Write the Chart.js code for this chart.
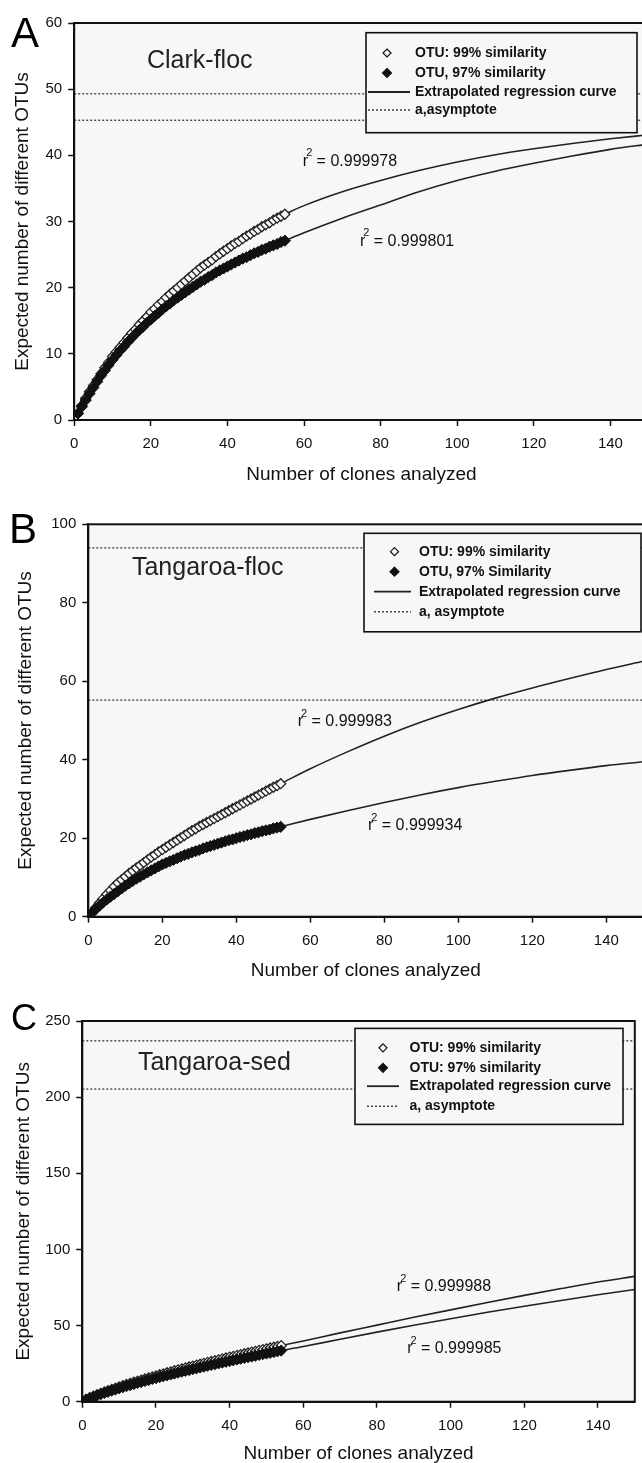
<!DOCTYPE html>
<html>
<head>
<meta charset="utf-8">
<script src="https://cdn.jsdelivr.net/npm/chart.js"></script>
<style>
  html, body { margin: 0; padding: 0; background: #fff; overflow: hidden; width: 642px; height: 1463px; }
  canvas { position: absolute; left: 0; }
</style>
</head>
<body>
<canvas id="chartA" width="660" height="495" style="top:0px"></canvas>
<canvas id="chartB" width="660" height="496" style="top:495px"></canvas>
<canvas id="chartC" width="660" height="483" style="top:991px"></canvas>
<script>
// clone counts (x) shared by the three panels
const cloneCounts = [1,2,3,4,5,6,7,8,9,10,11,12,13,14,15,16,17,18,19,20,21,22,23,24,25,26,27,28,29,30,
  31,32,33,34,35,36,37,38,39,40,41,42,43,44,45,46,47,48,49,50,51,52,53,54,55];
const xTicks = [0, 20, 40, 60, 80, 100, 120, 140];
const xMin = 0, xMax = 150;

// A - Clark-floc
const clarkOtu99 = [1.0,2.2,3.3,4.3,5.2,6.1,7.0,7.9,8.7,9.6,10.3,11.0,11.7,12.4,13.1,13.7,14.4,15.0,15.6,16.3,
  16.8,17.4,17.9,18.5,19.0,19.5,20.0,20.5,21.0,21.5,22.0,22.5,23.0,23.4,23.8,24.2,24.7,25.1,25.5,25.9,
  26.3,26.7,27.0,27.4,27.8,28.1,28.5,28.8,29.2,29.5,29.8,30.2,30.5,30.8,31.1];
const clarkOtu97 = [1.0,2.0,3.0,4.0,4.9,5.8,6.7,7.5,8.3,9.1,9.8,10.5,11.1,11.8,12.4,13.0,13.6,14.1,14.7,15.2,
  15.7,16.2,16.7,17.2,17.6,18.1,18.5,18.9,19.3,19.7,20.1,20.5,20.9,21.2,21.6,21.9,22.3,22.6,22.9,23.2,
  23.5,23.8,24.1,24.4,24.6,24.9,25.2,25.4,25.7,25.9,26.2,26.4,26.6,26.9,27.1];
const clarkFitX = [55, 60, 70, 80, 90, 100, 110, 120, 130, 140, 150];
const clarkFit99 = [31.1, 32.4, 34.5, 36.2, 37.7, 39.0, 40.1, 41.0, 41.8, 42.5, 43.1];
const clarkFit97 = [27.1, 28.3, 30.5, 32.5, 34.5, 36.2, 37.6, 38.8, 39.9, 40.9, 41.7];
const clarkAsymptotes = [49.3, 45.3];
const clarkYTicks = [0, 10, 20, 30, 40, 50, 60];
const clarkR2 = ['0.999978', '0.999801'];
const clarkLegend = ['OTU: 99% similarity', 'OTU, 97% similarity', 'Extrapolated regression curve', 'a,asymptote'];

// B - Tangaroa-floc
const tflocOtu99 = [1.0,2.3,3.5,4.6,5.7,6.7,7.7,8.6,9.4,10.2,11.0,11.7,12.4,13.1,13.8,14.5,15.2,15.8,16.5,17.1,
  17.7,18.3,18.9,19.5,20.1,20.7,21.3,21.9,22.4,23.0,23.5,24.0,24.5,25.0,25.5,26.0,26.5,27.0,27.5,28.0,
  28.5,29.0,29.5,30.0,30.5,31.0,31.5,32.0,32.5,33.0,33.4,33.9];
const tflocOtu97 = [1.0,1.9,2.8,3.6,4.4,5.1,5.8,6.5,7.2,7.9,8.5,9.1,9.7,10.2,10.8,11.3,11.8,12.3,12.8,13.3,
  13.7,14.1,14.5,14.9,15.3,15.7,16.0,16.4,16.7,17.0,17.4,17.7,18.0,18.3,18.6,18.9,19.2,19.5,19.7,20.0,
  20.3,20.5,20.8,21.0,21.3,21.5,21.8,22.0,22.2,22.5,22.7,22.9];
const tflocFitX = [52, 60, 70, 80, 90, 100, 110, 120, 130, 140, 150];
const tflocFit99 = [33.9, 37.7, 42.0, 46.0, 49.6, 52.8, 55.7, 58.3, 60.7, 63.0, 65.1];
const tflocFit97 = [22.9, 24.8, 27.0, 29.1, 31.1, 32.9, 34.5, 36.0, 37.3, 38.5, 39.5];
const tflocAsymptotes = [94.0, 55.2];
const tflocYTicks = [0, 20, 40, 60, 80, 100];
const tflocR2 = ['0.999983', '0.999934'];
const tflocLegend = ['OTU: 99% similarity', 'OTU, 97% Similarity', 'Extrapolated regression curve', 'a, asymptote'];

// C - Tangaroa-sed
const tsedOtu99 = [1.5,2.6,3.6,4.6,5.5,6.4,7.3,8.1,8.9,9.7,10.5,11.3,12.0,12.8,13.5,14.2,14.9,15.6,16.3,17.0,
  17.7,18.3,19.0,19.6,20.3,20.9,21.5,22.2,22.8,23.4,24.0,24.6,25.2,25.8,26.4,27.0,27.5,28.1,28.7,29.3,
  29.8,30.4,30.9,31.5,32.0,32.6,33.1,33.7,34.2,34.7,35.3,35.8,36.3,36.8];
const tsedOtu97 = [1.2,2.2,3.1,4.0,4.9,5.7,6.5,7.3,8.0,8.8,9.5,10.2,10.9,11.6,12.3,12.9,13.6,14.2,14.9,15.5,
  16.1,16.7,17.3,17.9,18.5,19.1,19.7,20.3,20.8,21.4,21.9,22.5,23.0,23.6,24.1,24.6,25.2,25.7,26.2,26.7,
  27.2,27.7,28.2,28.7,29.2,29.7,30.2,30.7,31.2,31.7,32.1,32.6,33.1,33.6];
const tsedFitX = [54, 60, 70, 80, 90, 100, 110, 120, 130, 140, 150];
const tsedFit99 = [36.8, 39.9, 45.2, 50.3, 55.4, 60.3, 65.1, 69.8, 74.3, 78.6, 82.3];
const tsedFit97 = [33.6, 36.2, 41.0, 45.7, 50.2, 54.5, 58.7, 62.7, 66.5, 70.2, 73.7];
const tsedAsymptotes = [237.0, 205.3];
const tsedYTicks = [0, 50, 100, 150, 200, 250];
const tsedR2 = ['0.999988', '0.999985'];
const tsedLegend = ['OTU: 99% similarity', 'OTU: 97% similarity', 'Extrapolated regression curve', 'a, asymptote'];

const FONT = 'Arial, "Liberation Sans", Helvetica, sans-serif';
const plotBg = '#f7f7f7';
const ink = '#111';

function pts(xs, ys) {
  return ys.map((y, i) => ({ x: xs[i], y: y }));
}

function diamond(ctx, x, y, r, filled) {
  ctx.beginPath();
  ctx.moveTo(x, y - r);
  ctx.lineTo(x + r, y);
  ctx.lineTo(x, y + r);
  ctx.lineTo(x - r, y);
  ctx.closePath();
  ctx.fillStyle = filled ? ink : plotBg;
  ctx.fill();
  ctx.lineWidth = 1.2;
  ctx.strokeStyle = ink;
  ctx.stroke();
}

function makePanel(p) {
  const canvas = document.getElementById(p.id);
  const W = canvas.width, H = canvas.height;
  const a = p.area;

  const datasets = [
    { label: p.legend[1], data: pts(cloneCounts, p.otu97), pointStyle: 'rectRot', pointRadius: 5.6,
      pointBackgroundColor: ink, pointBorderColor: ink, pointBorderWidth: 1, showLine: false, order: 0 },
    { label: p.legend[0], data: pts(cloneCounts, p.otu99), pointStyle: 'rectRot', pointRadius: 5,
      pointBackgroundColor: plotBg, pointBorderColor: '#222', pointBorderWidth: 1.3, showLine: false, order: 1 },
    { type: 'line', label: 'fit 99', data: pts(p.fitX, p.fit99), borderColor: '#222', borderWidth: 1.6,
      pointRadius: 0, cubicInterpolationMode: 'monotone', fill: false, order: 2 },
    { type: 'line', label: 'fit 97', data: pts(p.fitX, p.fit97), borderColor: '#222', borderWidth: 1.6,
      pointRadius: 0, cubicInterpolationMode: 'monotone', fill: false, order: 2 }
  ];
  p.asymptotes.forEach(function(v) {
    datasets.push({ type: 'line', label: 'asymptote', data: [{ x: xMin, y: v }, { x: xMax, y: v }],
      borderColor: '#444', borderWidth: 1.4, borderDash: [2, 2], pointRadius: 0, fill: false, order: 3 });
  });

  const decor = {
    id: 'decor',
    beforeDraw(chart) {
      const c = chart.chartArea, ctx = chart.ctx;
      ctx.save();
      ctx.fillStyle = plotBg;
      ctx.fillRect(c.left, c.top, c.right - c.left, c.bottom - c.top);
      ctx.restore();
    },
    afterDraw(chart) {
      const c = chart.chartArea, ctx = chart.ctx;
      const xs = chart.scales.x, ys = chart.scales.y;
      ctx.save();
      // frame
      ctx.lineWidth = 2;
      ctx.strokeStyle = ink;
      ctx.strokeRect(c.left, c.top, c.right - c.left, c.bottom - c.top);

      // legend box
      const L = p.legendBox;
      ctx.fillStyle = plotBg;
      ctx.fillRect(L.x, L.y, L.w, L.h);
      ctx.lineWidth = 1.6;
      ctx.strokeRect(L.x, L.y, L.w, L.h);
      ctx.font = 'bold 14px ' + FONT;
      ctx.textBaseline = 'middle';
      ctx.textAlign = 'left';
      L.rows.forEach(function(ry, i) {
        const y = L.y + ry;
        if (i === 0) diamond(ctx, L.x + L.markX, y, 4, false);
        if (i === 1) diamond(ctx, L.x + L.markX, y, 4.5, true);
        if (i >= 2) {
          ctx.beginPath();
          ctx.lineWidth = i === 2 ? 1.8 : 1.4;
          ctx.strokeStyle = i === 2 ? '#222' : '#444';
          ctx.setLineDash(i === 2 ? [] : [2, 2]);
          ctx.moveTo(L.x + L.line[0], y);
          ctx.lineTo(L.x + L.line[1], y);
          ctx.stroke();
          ctx.setLineDash([]);
        }
        ctx.fillStyle = ink;
        ctx.fillText(p.legend[i], L.x + L.textX, y);
      });

      // site name
      ctx.font = '25px ' + FONT;
      ctx.fillStyle = '#222';
      ctx.fillText(p.site.text, xs.getPixelForValue(p.site.x), ys.getPixelForValue(p.site.y));

      // r^2 labels
      p.r2pos.forEach(function(pos, i) {
        let x = xs.getPixelForValue(pos.x);
        const y = ys.getPixelForValue(pos.y);
        ctx.fillStyle = ink;
        ctx.font = '16px ' + FONT;
        ctx.fillText('r', x, y);
        x += ctx.measureText('r').width;
        ctx.font = '11px ' + FONT;
        ctx.fillText('2', x - 2, y - 8);
        x += 4;
        ctx.font = '16px ' + FONT;
        ctx.fillText(' = ' + p.r2[i], x, y);
      });

      // panel letter
      ctx.font = p.letter.size + 'px ' + FONT;
      ctx.textBaseline = 'alphabetic';
      ctx.fillStyle = '#000';
      ctx.fillText(p.letter.text, p.letter.x, p.letter.y);
      ctx.restore();
    }
  };

  return new Chart(canvas.getContext('2d'), {
    type: 'scatter',
    data: { datasets: datasets },
    options: {
      responsive: false,
      animation: false,
      devicePixelRatio: 1,
      events: [],
      layout: { padding: { left: 0, top: a.top, right: W - a.right, bottom: 0 } },
      plugins: { legend: { display: false }, tooltip: { enabled: false } },
      scales: {
        x: {
          type: 'linear', min: xMin, max: xMax,
          afterBuildTicks: function(s) { s.ticks = xTicks.map(function(v) { return { value: v }; }); },
          afterFit: function(s) { s.height = H - a.bottom; },
          grid: { drawOnChartArea: false, drawTicks: true, tickLength: 6, tickColor: ink, tickWidth: 1.5 },
          border: { color: ink, width: 2 },
          ticks: { color: ink, font: { family: FONT, size: 15 }, padding: 9, maxRotation: 0 },
          title: { display: true, text: 'Number of clones analyzed', color: ink,
            font: { family: FONT, size: 19, lineHeight: 1.2 }, padding: { top: 0, bottom: 8.6 } }
        },
        y: {
          type: 'linear', min: p.yTicks[0], max: p.yTicks[p.yTicks.length - 1],
          afterBuildTicks: function(s) { s.ticks = p.yTicks.map(function(v) { return { value: v }; }); },
          afterFit: function(s) { s.width = a.left; },
          grid: { drawOnChartArea: false, drawTicks: true, tickLength: 6, tickColor: ink, tickWidth: 1.5 },
          border: { color: ink, width: 2 },
          ticks: { color: ink, font: { family: FONT, size: 15 }, padding: 6 },
          title: { display: true, text: 'Expected number of different OTUs', color: ink,
            font: { family: FONT, size: 19, lineHeight: 1.2 }, padding: { top: p.yTitlePad, bottom: 0 } }
        }
      }
    },
    plugins: [decor]
  });
}

makePanel({
  id: 'chartA', otu99: clarkOtu99, otu97: clarkOtu97, fitX: clarkFitX, fit99: clarkFit99, fit97: clarkFit97,
  asymptotes: clarkAsymptotes, yTicks: clarkYTicks, r2: clarkR2, legend: clarkLegend,
  area: { left: 74.2, top: 23, right: 648.7, bottom: 420 },
  yTitlePad: 11.1,
  letter: { text: 'A', x: 11, y: 47, size: 42 },
  site: { text: 'Clark-floc', x: 19, y: 54.2 },
  r2pos: [{ x: 59.7, y: 39.1 }, { x: 74.6, y: 27.0 }],
  legendBox: { x: 366, y: 32.7, w: 271, h: 100, markX: 21, line: [2, 44], textX: 49, rows: [20.3, 40.3, 59.3, 77.3] }
});

makePanel({
  id: 'chartB', otu99: tflocOtu99, otu97: tflocOtu97, fitX: tflocFitX, fit99: tflocFit99, fit97: tflocFit97,
  asymptotes: tflocAsymptotes, yTicks: tflocYTicks, r2: tflocR2, legend: tflocLegend,
  area: { left: 88.3, top: 29.3, right: 643.3, bottom: 421.7 },
  yTitlePad: 14.1,
  letter: { text: 'B', x: 9, y: 48, size: 42 },
  site: { text: 'Tangaroa-floc', x: 11.8, y: 88.8 },
  r2pos: [{ x: 56.6, y: 49.6 }, { x: 75.6, y: 23.2 }],
  legendBox: { x: 364, y: 38.3, w: 277, h: 98.5, markX: 30.5, line: [10, 47], textX: 55, rows: [18.4, 38.4, 58.4, 78.5] }
});

makePanel({
  id: 'chartC', otu99: tsedOtu99, otu97: tsedOtu97, fitX: tsedFitX, fit99: tsedFit99, fit97: tsedFit97,
  asymptotes: tsedAsymptotes, yTicks: tsedYTicks, r2: tsedR2, legend: tsedLegend,
  area: { left: 82.3, top: 30, right: 634.8, bottom: 410.7 },
  yTitlePad: 12.1,
  letter: { text: 'C', x: 11, y: 39, size: 36 },
  site: { text: 'Tangaroa-sed', x: 15.1, y: 222.5 },
  r2pos: [{ x: 85.4, y: 75.3 }, { x: 88.2, y: 34.6 }],
  legendBox: { x: 355, y: 37.4, w: 268, h: 96, markX: 28, line: [12, 44], textX: 54.5, rows: [19.4, 39.4, 57.8, 77.8] }
});
</script>
</body>
</html>
